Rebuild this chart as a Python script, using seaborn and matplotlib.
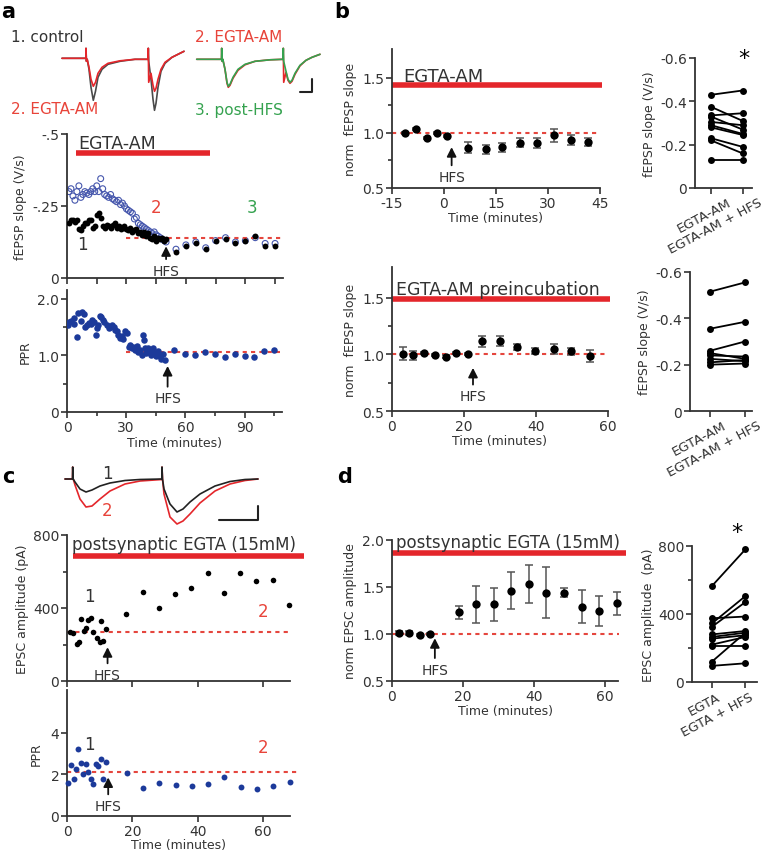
import matplotlib
matplotlib.use("Agg")
import numpy as np
import pandas as pd
import matplotlib.pyplot as plt
import seaborn as sns
from matplotlib import transforms

# ------------------------------------------------------------------
#  Data
# ------------------------------------------------------------------
# panel a: example fEPSP traces (time in ms, amplitude in a.u.)
trace_a1_t = [2, 25.8, 26, 26.4, 27.2, 29, 31, 33.3, 35.5, 38, 42, 48, 60, 75, 88,
              88.3, 88.7, 91, 93, 94.5, 96, 98, 101, 105, 112, 120, 124]
trace_a1_control = [0, 0, 10, -3, -1, -11, -29, -42, -33, -19, -11, -6, -3, -1, -1,
                    10, -3, -21, -41, -52, -45, -29, -13, -5, 1, 5, 7]
trace_a1_egta = [0, 0, 10, -3, -1, -9, -21, -28, -24, -15, -9, -5, -2.5, -1, -1,
                 10, -24, -15, -27, -33, -30, -21, -11, -4, 1, 5, 7]
trace_a2_t = [136.7, 161.5, 161.7, 162.1, 162.8, 165, 167, 168.3, 170, 173, 178, 185, 195,
              210, 223, 223.3, 223.7, 226, 228, 230, 232, 235, 240, 246, 252, 260]
trace_a2_egta = [-1, -1, 10, -3, -1, -11, -25, -29, -27, -20, -12, -6.5, -3,
                 -1.5, -1, 10, -24, -14, -22, -25, -23, -16, -7.5, -2, 1, 4]
trace_a2_hfs = [-1, -1, 10, -3, -1, -11, -24, -28, -26, -19, -11, -6, -3,
                -1.5, -1, 10, -3, -13, -21, -24, -22, -15, -7, -2, 1, 4]

# panel a: fEPSP slope time course
a_t_pre = list(range(1, 51))
a_slope1_pre = [-0.19, -0.20, -0.20, -0.195, -0.20, -0.17, -0.165, -0.18, -0.19, -0.19,
                -0.20, -0.20, -0.175, -0.18, -0.22, -0.225, -0.21, -0.18, -0.175, -0.185,
                -0.18, -0.175, -0.185, -0.19, -0.175, -0.18, -0.17, -0.175, -0.18, -0.17,
                -0.165, -0.175, -0.16, -0.165, -0.17, -0.155, -0.16, -0.15, -0.16, -0.145,
                -0.155, -0.14, -0.135, -0.145, -0.13, -0.14, -0.135, -0.14, -0.13, -0.135]
a_slope2_pre = [-0.30, -0.31, -0.285, -0.27, -0.30, -0.32, -0.28, -0.29, -0.30, -0.295,
                -0.29, -0.30, -0.31, -0.30, -0.32, -0.30, -0.345, -0.31, -0.29, -0.285,
                -0.28, -0.29, -0.275, -0.27, -0.265, -0.27, -0.255, -0.26, -0.25, -0.24,
                -0.235, -0.23, -0.225, -0.205, -0.21, -0.19, -0.185, -0.18, -0.175, -0.17,
                -0.165, -0.16, -0.155, -0.16, -0.15, -0.145, -0.14, -0.135, -0.13, -0.125]
a_t_post = [55, 60, 65, 70, 75, 80, 85, 90, 95, 100, 105]
a_slope1_post = [-0.09, -0.11, -0.12, -0.10, -0.13, -0.135, -0.12, -0.13, -0.145, -0.11, -0.11]
a_slope2_post = [-0.10, -0.115, -0.125, -0.105, -0.13, -0.14, -0.125, -0.13, -0.14, -0.12, -0.12]

# panel a: paired-pulse ratio
a_ppr_t = [0.3, 1.2, 2, 3.4, 3.8, 5, 5.7, 7, 7.4, 8.4, 9, 10, 11, 12, 12.8,
           13.6, 14.5, 15, 15.7, 16.6, 17.3, 18.1, 19, 20.3, 21.1, 22, 22.8, 23.6, 24.5, 25.3,
           26.1, 27, 27.8, 28.6, 29.5, 30.3, 31.2, 32, 32.8, 33.7, 34.5, 35.3, 36.2, 37, 37.8,
           38.7, 39.2, 39.7, 40.3, 41.2, 42, 42.8, 43.7, 44.5, 45.3, 46.2, 47, 47.8, 48.7, 49.5,
           54, 60, 65, 70, 75, 80, 85, 90, 95, 100, 105]
a_ppr = [1.53, 1.59, 1.6, 1.65, 1.55, 1.32, 1.75, 1.61, 1.76, 1.72, 1.5, 1.53, 1.57, 1.55, 1.62,
         1.59, 1.36, 1.48, 1.53, 1.69, 1.67, 1.62, 1.59, 1.53, 1.48, 1.5, 1.53, 1.5, 1.45, 1.43,
         1.36, 1.3, 1.34, 1.28, 1.42, 1.39, 1.15, 1.18, 1.12, 1.15, 1.09, 1.16, 1.06, 1.1, 1.0,
         1.36, 1.27, 1.12, 1.04, 1.13, 1.07, 1.0, 1.12, 1.04, 0.98, 1.07, 0.98, 0.94, 1.02, 0.92,
         1.1, 1.03, 1.01, 1.06, 1.03, 0.97, 1.03, 0.98, 0.97, 1.08, 1.1]

# panel b: normalised fEPSP slope, EGTA-AM wash-in
b1_t = [-11.3, -8.1, -5, -2.1, 1, 7, 12, 16.8, 21.9, 26.7, 31.7, 36.6, 41.6]
b1_mean = [1.0, 1.036, 0.95, 1.0, 0.97, 0.864, 0.85, 0.87, 0.91, 0.91, 0.976, 0.933, 0.92]
b1_sem = [0.01, 0.01, 0.01, 0.01, 0.01, 0.05, 0.04, 0.04, 0.04, 0.045, 0.06, 0.045, 0.035]
b1_pre = [-0.43, -0.375, -0.335, -0.33, -0.305, -0.29, -0.28, -0.23, -0.22, -0.13]
b1_post = [-0.45, -0.31, -0.345, -0.27, -0.29, -0.25, -0.245, -0.19, -0.16, -0.13]

# panel b: EGTA-AM preincubation
b2_t = [3.1, 5.8, 8.8, 12, 15, 17.9, 21, 25, 29.9, 34.7, 39.8, 44.9, 49.8, 54.9]
b2_mean = [1.006, 0.99, 1.01, 0.994, 0.98, 1.01, 1.0, 1.115, 1.115, 1.065, 1.03, 1.047, 1.026, 0.985]
b2_sem = [0.06, 0.04, 0.01, 0.01, 0.01, 0.01, 0.01, 0.05, 0.045, 0.03, 0.03, 0.04, 0.03, 0.05]
b2_pre = [-0.515, -0.355, -0.26, -0.25, -0.24, -0.225, -0.21, -0.20]
b2_post = [-0.555, -0.385, -0.30, -0.225, -0.235, -0.215, -0.22, -0.205]

# panel c: example EPSC traces (ms, pA-ish)
trace_c_t = [5, 12.5, 12.7, 13.2, 15, 20, 26, 32, 40, 50, 65, 80, 101.8, 102, 102.5,
             104, 110, 117, 123, 130, 140, 155, 170, 185, 198]
trace_c_before = [0, 0, 12, 0, -3, -10, -13, -11, -7, -4, -1.5, -0.5, 0, 12, 0,
                  -10, -25, -33, -30, -23, -15, -7, -2.5, -0.5, 0]
trace_c_after = [0, 0, 12, 0, -6, -20, -28, -27, -20, -12, -5, -2, -0.5, 12, 0,
                 -15, -38, -45, -42, -35, -24, -12, -5, -1.5, 0]

# panel c: single-cell EPSC amplitude and PPR
c_t = [0.9, 1.9, 3.0, 3.7, 4.4, 5.2, 5.8, 6.4, 7.2, 8.0, 9.3, 10.1, 10.3, 11.1, 11.8,
       18, 23.1, 28, 33, 38, 43, 48, 53, 57.8, 62.9, 67.8]
c_amp = [270, 263, 203, 215, 340, 276, 289, 336, 344, 267, 234, 212, 327, 221, 285,
         367, 489, 398, 477, 508, 590, 480, 592, 546, 555, 418]
c_ppr_t = [0.4, 1.2, 2.1, 2.75, 3.5, 4.2, 5, 5.7, 6.5, 7.2, 8.0, 8.9, 9.6, 10.3, 11.1, 11.8,
           18.2, 23.1, 28.1, 33.2, 38.1, 43.2, 48.1, 53.1, 58.2, 63.1, 68.2]
c_ppr = [1.6, 2.44, 1.8, 2.28, 3.2, 2.53, 2.0, 2.52, 2.12, 1.76, 1.52, 2.52, 2.4, 2.72, 1.76, 2.6,
         2.08, 1.36, 1.6, 1.47, 1.44, 1.52, 1.88, 1.41, 1.32, 1.44, 1.63]

# panel d: normalised EPSC amplitude
d_t = [1.9, 4.9, 7.8, 10.7, 18.8, 23.7, 28.7, 33.6, 38.6, 43.6, 48.6, 53.6, 58.5, 63.6]
d_mean = [1.007, 1.01, 0.99, 0.996, 1.23, 1.316, 1.316, 1.46, 1.53, 1.44, 1.44, 1.29, 1.245, 1.326]
d_sem = [0.02, 0.02, 0.01, 0.01, 0.07, 0.195, 0.175, 0.195, 0.2, 0.27, 0.05, 0.175, 0.16, 0.12]
d_pre = [565, 375, 345, 325, 280, 265, 255, 220, 210, 120, 95]
d_post = [780, 385, 505, 470, 300, 290, 275, 265, 210, 290, 110]

# ------------------------------------------------------------------
#  Style
# ------------------------------------------------------------------
sns.set_style("ticks")
plt.rcParams["font.family"] = ["DejaVu Sans"]
plt.rcParams["axes.unicode_minus"] = False

INK = "#333333"
RED = "#e4262b"
DASH = "#e5463e"
RED_TXT = "#e8443a"
GREEN = "#35a24f"
BLUE = "#1c3a9a"
BLUE_OPEN = "#4657ad"

W, H = 765, 853
fig = plt.figure(figsize=(W / 100, H / 100), dpi=100)


def box(x0, y0, x1, y1):
    # axes from a pixel box (top-left origin)
    return fig.add_axes([x0 / W, 1 - y1 / H, (x1 - x0) / W, (y1 - y0) / H])


def style(ax):
    sns.despine(ax=ax)
    for s in ("left", "bottom"):
        ax.spines[s].set_linewidth(1.3)
        ax.spines[s].set_color(INK)
    ax.tick_params(which="both", width=1.2, color=INK, labelcolor=INK, labelsize=10, pad=1.5)
    ax.tick_params(which="major", length=4)
    ax.tick_params(which="minor", length=3)
    ax.patch.set_alpha(0)


def bar(ax, x0, x1, y):
    ax.plot([x0, x1], [y, y], color=RED, lw=4, solid_capstyle="butt", clip_on=False)


def baseline(ax, x0, x1, y):
    ax.plot([x0, x1], [y, y], color=DASH, lw=1.5, ls=(0, (2, 2)), clip_on=False)


def hfs(ax, x, tip, txt_y):
    ax.annotate("HFS", xy=(x, tip), xytext=(x, txt_y), ha="center", va="center",
                fontsize=10, color=INK,
                arrowprops=dict(arrowstyle="-|>,head_length=0.55,head_width=0.28",
                                color="#111111", lw=1.3, shrinkA=1, shrinkB=0))


def errpoints(ax, t, m, e):
    ax.errorbar(t, m, yerr=e, fmt="none", ecolor="#555555", elinewidth=1.1,
                capsize=3, capthick=1.1, clip_on=False)
    sns.scatterplot(x=t, y=m, ax=ax, color="black", s=36, linewidth=0, zorder=3, clip_on=False)


def paired(ax, pre, post):
    n = len(pre)
    df = pd.DataFrame({"cond": [0] * n + [1] * n,
                       "val": list(pre) + list(post),
                       "cell": list(range(n)) * 2})
    sns.lineplot(data=df, x="cond", y="val", units="cell", estimator=None, color="black",
                 lw=1.3, marker="o", markersize=5, markeredgewidth=0, ax=ax, clip_on=False)


def cat_labels(ax, labels, dx):
    ax.set_xticks([0, 1])
    ax.set_xticklabels(labels, rotation=28, ha="right", rotation_mode="anchor", fontsize=9.5)
    off = transforms.ScaledTranslation(dx / 100, 0, fig.dpi_scale_trans)
    for lab in ax.get_xticklabels():
        lab.set_transform(lab.get_transform() + off)
    ax.set_xlabel("")


def trace(ax, t, v, color, lw=1.2):
    sns.lineplot(x=t, y=v, ax=ax, color=color, lw=lw, sort=False, estimator=None)


# ------------------------------------------------------------------
#  Panel a
# ------------------------------------------------------------------
ax = box(55, 40, 325, 118)
trace(ax, trace_a1_t, trace_a1_control, "#4a4a4a")
trace(ax, trace_a1_t, trace_a1_egta, RED)
trace(ax, trace_a2_t, trace_a2_egta, RED)
trace(ax, trace_a2_t, trace_a2_hfs, GREEN)
ax.plot([240, 251.7, 251.7], [-34, -34, -20.7], color="#222222", lw=1.5)
ax.set_xlim(-5, 265)
ax.set_ylim(-58.7, 19.3)
ax.axis("off")

fig.text(11 / W, 1 - 38 / H, "1. control", fontsize=11, color=INK, va="center")
fig.text(195 / W, 1 - 38 / H, "2. EGTA-AM", fontsize=11, color=RED_TXT, va="center")
fig.text(11 / W, 1 - 110 / H, "2. EGTA-AM", fontsize=11, color=RED_TXT, va="center")
fig.text(195 / W, 1 - 110 / H, "3. post-HFS", fontsize=11, color=GREEN, va="center")

ax = box(67, 135, 283, 279)
style(ax)
sns.scatterplot(x=a_t_pre + a_t_post, y=a_slope1_pre + a_slope1_post, ax=ax,
                color="black", s=18, linewidth=0, zorder=3)
ax.scatter(a_t_pre + a_t_post, a_slope2_pre + a_slope2_post, s=18, facecolors="none",
           edgecolors=BLUE_OPEN, linewidths=0.8, zorder=2)
baseline(ax, 30, 108, -0.139)
bar(ax, 4.5, 72, -0.434)
ax.text(5.6, -0.45, "EGTA-AM", fontsize=12.5, color=INK, va="baseline")
ax.text(8, -0.118, "1", fontsize=12, color=INK, ha="center", va="center")
ax.text(45, -0.247, "2", fontsize=12, color=RED_TXT, ha="center", va="center")
ax.text(93.5, -0.247, "3", fontsize=12, color=GREEN, ha="center", va="center")
hfs(ax, 50, -0.11, -0.025)
ax.set_xlim(0, 109)
ax.set_ylim(0, -0.5)
ax.set_xticks(range(0, 106, 15))
ax.set_xticklabels([])
ax.set_yticks([0, -0.25, -0.5])
ax.set_yticklabels(["0", "-.25", "-.5"])
ax.set_ylabel("fEPSP slope (V/s)", fontsize=9, color=INK, labelpad=4)

ax = box(67, 291, 282, 413)
style(ax)
sns.scatterplot(x=a_ppr_t, y=a_ppr, ax=ax, color=BLUE, s=22, linewidth=0, zorder=3)
baseline(ax, 30, 108, 1.05)
hfs(ax, 51, 0.81, 0.24)
ax.set_xlim(0, 109)
ax.set_ylim(0, 2.15)
ax.set_xticks([0, 30, 60, 90])
ax.set_xticks([15, 45, 75, 105], minor=True)
ax.set_yticks([0, 1, 2])
ax.set_yticklabels(["0", "1.0", "2.0"])
ax.set_yticks([0.5, 1.5], minor=True)
ax.set_ylabel("PPR", fontsize=9, color=INK, labelpad=4)
ax.set_xlabel("Time (minutes)", fontsize=9, color=INK, labelpad=2)

# ------------------------------------------------------------------
#  Panel b
# ------------------------------------------------------------------
ax = box(392, 50, 600, 189)
style(ax)
baseline(ax, -15, 45, 1.0)
errpoints(ax, b1_t, b1_mean, b1_sem)
bar(ax, -15, 45.5, 1.43)
ax.text(-11.8, 1.47, "EGTA-AM", fontsize=13, color=INK, va="baseline")
hfs(ax, 2.2, 0.87, 0.60)
ax.set_xlim(-15, 45)
ax.set_ylim(0.5, 1.76)
ax.set_xticks([-15, 0, 15, 30, 45])
ax.set_yticks([0.5, 1.0, 1.5])
ax.set_yticklabels(["0.5", "1.0", "1.5"])
ax.set_yticks([0.75, 1.25], minor=True)
ax.set_ylabel("norm  fEPSP slope", fontsize=9, color=INK, labelpad=4)
ax.set_xlabel("Time (minutes)", fontsize=9, color=INK, labelpad=1)

ax = box(695, 59, 752, 189)
style(ax)
paired(ax, b1_pre, b1_post)
ax.set_xlim(-0.5, 1.3)
ax.set_ylim(0, -0.6)
ax.set_yticks([0, -0.2, -0.4, -0.6])
ax.set_yticklabels(["0", "-0.2", "-0.4", "-0.6"])
cat_labels(ax, ["EGTA-AM", "EGTA-AM + HFS"], 16)
ax.set_ylabel("fEPSP slope (V/s)", fontsize=9, color=INK, labelpad=3)
ax.text(1.05, -0.6, "*", fontsize=16, color="black", ha="center", va="center")

ax = box(392, 268, 608, 412)
style(ax)
baseline(ax, 0, 60, 1.0)
errpoints(ax, b2_t, b2_mean, b2_sem)
bar(ax, 0, 60.6, 1.49)
ax.text(1.2, 1.53, "EGTA-AM preincubation", fontsize=12.5, color=INK, va="baseline")
hfs(ax, 22.5, 0.88, 0.63)
ax.set_xlim(0, 60)
ax.set_ylim(0.5, 1.77)
ax.set_xticks([0, 20, 40, 60])
ax.set_yticks([0.5, 1.0, 1.5])
ax.set_yticklabels(["0.5", "1.0", "1.5"])
ax.set_yticks([0.75, 1.25], minor=True)
ax.set_ylabel("norm  fEPSP slope", fontsize=9, color=INK, labelpad=4)
ax.set_xlabel("Time (minutes)", fontsize=9, color=INK, labelpad=1)

ax = box(690, 273, 752, 412)
style(ax)
paired(ax, b2_pre, b2_post)
ax.set_xlim(-0.57, 1.2)
ax.set_ylim(0, -0.6)
ax.set_yticks([0, -0.2, -0.4, -0.6])
ax.set_yticklabels(["0", "-0.2", "-0.4", "-0.6"])
cat_labels(ax, ["EGTA-AM", "EGTA-AM + HFS"], 12)
ax.set_ylabel("fEPSP slope (V/s)", fontsize=9, color=INK, labelpad=3)

# ------------------------------------------------------------------
#  Panel c
# ------------------------------------------------------------------
ax = box(60, 460, 265, 532)
trace(ax, trace_c_t, trace_c_after, RED)
trace(ax, trace_c_t, trace_c_before, "#222222")
ax.plot([159, 198, 198], [-41, -41, -27], color="#222222", lw=1.5)
ax.text(47, 6, "1", fontsize=12, color=INK, ha="center", va="center")
ax.text(47, -31, "2", fontsize=12, color=RED_TXT, ha="center", va="center")
ax.set_xlim(0, 205)
ax.set_ylim(-52, 20)
ax.axis("off")

ax = box(67, 536, 290, 682)
style(ax)
sns.scatterplot(x=c_t, y=c_amp, ax=ax, color="black", s=16, linewidth=0, zorder=3, clip_on=False)
baseline(ax, 0, 68.2, 267)
bar(ax, 1.8, 72.5, 685)
ax.text(1.5, 723, "postsynaptic EGTA (15mM)", fontsize=12, color=INK, va="baseline")
ax.text(6.8, 467, "1", fontsize=12, color=INK, ha="center", va="center")
ax.text(60, 385, "2", fontsize=12, color=RED_TXT, ha="center", va="center")
hfs(ax, 12.4, 185, 33)
ax.set_xlim(0, 68.2)
ax.set_ylim(0, 800)
ax.set_xticks([0, 20, 40, 60])
ax.set_xticklabels([])
ax.set_yticks([0, 400, 800])
ax.set_yticks([200, 600], minor=True)
ax.set_ylabel("EPSC amplitude (pA)", fontsize=9, color=INK, labelpad=3)

ax = box(67, 691, 290, 817)
style(ax)
sns.scatterplot(x=c_ppr_t, y=c_ppr, ax=ax, color=BLUE, s=18, linewidth=0, zorder=3, clip_on=False)
baseline(ax, 0, 70.6, 2.09)
ax.text(7, 3.45, "1", fontsize=12, color=INK, ha="center", va="center")
ax.text(60, 3.3, "2", fontsize=12, color=RED_TXT, ha="center", va="center")
hfs(ax, 12.6, 1.85, 0.48)
ax.set_xlim(0, 68.2)
ax.set_ylim(0, 6.05)
ax.set_xticks([0, 20, 40, 60])
ax.set_yticks([0, 2, 4])
ax.set_ylabel("PPR", fontsize=9, color=INK, labelpad=6)
ax.set_xlabel("Time (minutes)", fontsize=9, color=INK, labelpad=0)

# ------------------------------------------------------------------
#  Panel d
# ------------------------------------------------------------------
ax = box(392, 541, 618, 682)
style(ax)
baseline(ax, 0, 64, 1.0)
errpoints(ax, d_t, d_mean, d_sem)
bar(ax, 0, 66, 1.86)
ax.text(1.2, 1.93, "postsynaptic EGTA (15mM)", fontsize=12, color=INK, va="baseline")
hfs(ax, 12.1, 0.955, 0.62)
ax.set_xlim(0, 63.8)
ax.set_ylim(0.5, 2.0)
ax.set_xticks([0, 20, 40, 60])
ax.set_yticks([0.5, 1.0, 1.5, 2.0])
ax.set_yticklabels(["0.5", "1.0", "1.5", "2.0"])
ax.set_ylabel("norm EPSC amplitude", fontsize=9, color=INK, labelpad=4)
ax.set_xlabel("Time (minutes)", fontsize=9, color=INK, labelpad=1)

ax = box(692, 547, 757, 683)
style(ax)
paired(ax, d_pre, d_post)
ax.set_xlim(-0.6, 1.35)
ax.set_ylim(0, 800)
ax.set_yticks([0, 400, 800])
ax.set_yticks([200, 600], minor=True)
cat_labels(ax, ["EGTA", "EGTA + HFS"], 4)
ax.set_ylabel("EPSC amplitude  (pA)", fontsize=9, color=INK, labelpad=2)
ax.text(0.74, 880, "*", fontsize=16, color="black", ha="center", va="center")

# panel letters
for letter, px, py in [("a", 1, 18), ("b", 334, 18), ("c", 2, 483), ("d", 337, 483)]:
    fig.text(px / W, 1 - py / H, letter, fontsize=15, fontweight="bold", color="black",
             va="baseline")

fig.savefig("out.png", dpi=100)
